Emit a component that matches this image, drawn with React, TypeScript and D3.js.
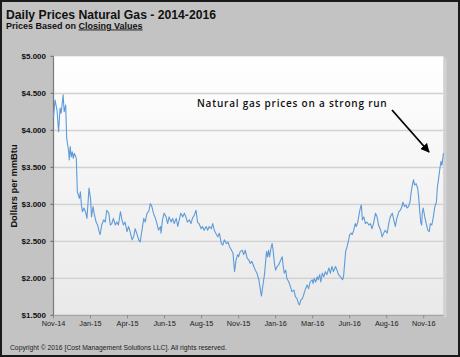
import React from 'react';
import * as d3 from 'd3';

const START_DATE = '2014-11-06';
const END_DATE = '2016-12-14';
const tickDates = ['2014-11-06', '2015-01-18', '2015-04-01', '2015-06-13', '2015-08-25', '2015-11-06', '2016-01-18', '2016-03-31', '2016-06-12', '2016-08-24', '2016-11-05'];
const yTicks = [1.5, 2, 2.5, 3, 3.5, 4, 4.5, 5];

// days after START_DATE
const dayOffsets = [
  0, 3, 7, 10, 13, 15, 19, 21, 24, 26, 30, 31, 33, 35, 37, 39, 41, 45, 47, 51, 53, 55, 57, 60, 63, 66, 68, 70, 73, 75, 78, 80, 84, 87, 90, 92, 95, 99,
  102, 105, 109, 112, 115, 118, 122, 125, 128, 132, 135, 138, 141, 145, 148, 151, 155, 158, 161, 165, 168, 171, 174, 178, 181, 184, 188, 191, 194, 197,
  201, 204, 207, 211, 212, 215, 218, 222, 225, 228, 232, 235, 238, 242, 245, 248, 251, 255, 258, 261, 264, 268, 271, 274, 278, 281, 284, 287, 291, 294, 297,
  301, 304, 307, 311, 314, 317, 320, 324, 327, 331, 334, 337, 341, 344, 347, 351, 354, 357, 360, 363, 365, 368, 372, 375, 378, 382, 385, 388, 391, 395, 398,
  401, 405, 408, 410, 413, 416, 418, 420, 422, 424, 426, 429, 431, 433, 436, 438, 441, 444, 447, 451, 453, 455, 458, 460, 464, 467, 470, 474, 477, 480, 483, 485, 488, 491, 493, 496,
  500, 503, 506, 510, 512, 514, 517, 520, 522, 525, 527, 530, 533, 536, 539, 543, 546, 549, 552, 556, 559, 562, 566, 570, 572, 576, 579, 582, 584, 587, 589, 592, 595, 597,
  600, 603, 605, 607, 609, 612, 615, 618, 622, 625, 628, 631, 635, 638, 641, 645, 648, 651, 654, 658, 661, 664, 668, 671, 674, 677, 681, 684, 687, 689, 692, 695, 697,
  700, 703, 705, 708, 710, 712, 715, 718, 720, 722, 724, 726, 727, 729, 732, 735, 738, 741, 743, 746, 749, 752, 755, 757, 759, 762, 764, 766, 768, 769,
];

const prices = [
  4.18, 4.41, 4.27, 3.98, 4.30, 4.23, 4.48, 4.25, 4.34, 3.89, 3.71, 3.60, 3.78, 3.64, 3.71, 3.62, 3.69, 3.62, 3.17, 3.08, 3.17, 2.99, 2.90, 2.95, 2.90, 2.81, 3.01, 3.22, 3.08, 2.83, 2.97, 2.88, 2.76, 2.72, 2.63, 2.59, 2.72, 2.79,
  2.76, 2.92, 2.88, 2.72, 2.74, 2.81, 2.72, 2.76, 2.72, 2.90, 2.79, 2.72, 2.76, 2.63, 2.70, 2.63, 2.52, 2.56, 2.67, 2.59, 2.52, 2.49, 2.63, 2.81, 2.76, 2.87, 2.91, 3.01, 2.97, 2.88,
  2.81, 2.74, 2.65, 2.70, 2.61, 2.79, 2.88, 2.83, 2.74, 2.83, 2.76, 2.81, 2.74, 2.81, 2.70, 2.79, 2.88, 2.83, 2.88, 2.83, 2.76, 2.79, 2.74, 2.81, 2.86, 2.92, 2.76, 2.74, 2.67, 2.70, 2.65,
  2.70, 2.65, 2.70, 2.67, 2.74, 2.65, 2.61, 2.56, 2.61, 2.47, 2.45, 2.52, 2.47, 2.49, 2.43, 2.38, 2.34, 2.09, 2.25, 2.32, 2.29, 2.36, 2.38, 2.32, 2.38, 2.27, 2.25, 2.20, 2.23, 2.16, 2.11,
  2.07, 1.98, 1.84, 1.76, 1.91, 2.05, 2.20, 2.36, 2.29, 2.38, 2.29, 2.41, 2.47, 2.38, 2.18, 2.11, 2.16, 2.18, 2.23, 2.29, 2.16, 2.07, 2.11, 2.00, 1.95, 1.89, 1.82, 1.84, 1.75, 1.73, 1.66, 1.64, 1.71, 1.73, 1.77, 1.84,
  1.91, 1.86, 1.95, 1.98, 1.93, 2.00, 1.95, 2.02, 1.98, 2.05, 1.95, 2.07, 2.02, 2.09, 2.05, 2.14, 2.07, 2.16, 2.09, 2.16, 2.11, 2.05, 2.02, 1.98, 2.03, 2.36, 2.43, 2.52, 2.59, 2.61, 2.59, 2.65, 2.74, 2.70,
  2.76, 2.88, 2.95, 2.99, 2.79, 2.83, 2.74, 2.76, 2.72, 2.74, 2.67, 2.74, 2.88, 2.83, 2.72, 2.65, 2.56, 2.61, 2.65, 2.61, 2.74, 2.83, 2.88, 2.79, 2.70, 2.81, 2.90, 2.92, 2.97, 3.03, 2.97, 2.99, 2.95,
  2.97, 3.03, 3.15, 3.28, 3.33, 3.26, 3.28, 3.22, 3.10, 2.92, 2.76, 2.72, 2.88, 2.95, 2.83, 2.74, 2.65, 2.63, 2.74, 2.72, 2.83, 2.97, 3.03, 3.24, 3.33, 3.49, 3.58, 3.53, 3.64, 3.69,
];

const TITLE = 'Daily Prices Natural Gas - 2014-2016';
const SUBTITLE_A = 'Prices Based on ';
const SUBTITLE_B = 'Closing Values';
const Y_TITLE = 'Dollars per mmBtu';
const ANNOTATION = 'Natural gas prices on a strong run';
const COPYRIGHT = 'Copyright \u00A9 2016 [Cost Management Solutions LLC].  All rights reserved.';

const W = 460;
const H = 357;
const PL = 53.5;
const PR = 443.5;
const PT = 56.3;
const PB = 315.3;

export default function App() {
  const parse = d3.utcParse('%Y-%m-%d');
  const fmt = d3.utcFormat('%b-%y');
  const start = parse(START_DATE) as Date;
  const end = parse(END_DATE) as Date;
  const x = d3.scaleUtc().domain([start, end]).range([PL, PR]);
  const y = d3.scaleLinear().domain([1.5, 5]).range([PB, PT]);
  const data = dayOffsets.map((d, i) => ({ date: d3.utcDay.offset(start, d), v: prices[i] }));
  const line = d3.line<{ date: Date; v: number }>().x((d) => x(d.date)).y((d) => y(d.v));
  const ticks = tickDates.map((t) => parse(t) as Date);
  const font = 'Arial, "Liberation Sans", sans-serif';

  return (
    <svg width={W} height={H} style={{ position: 'absolute', left: 0, top: 0, display: 'block' }} fontFamily={font}>
      <defs>
        <linearGradient id="pbg" x1="0" y1="0" x2="0" y2="1">
          <stop offset="0" stopColor="#ffffff" />
          <stop offset="1" stopColor="#e9e9e9" />
        </linearGradient>
        <marker id="arr" viewBox="0 0 10 10" refX="9" refY="5" markerWidth="5" markerHeight="5" orient="auto">
          <path d="M0,0 L10,5 L0,10 z" fill="#000" />
        </marker>
      </defs>
      <rect x={0} y={0} width={W} height={H} fill="#c3c3c3" />
      <rect x={1} y={1} width={W - 2} height={H - 2} fill="none" stroke="#1a1a1a" strokeWidth={2} />
      <rect x={PL} y={PT} width={PR - PL} height={PB - PT} fill="url(#pbg)" />
      <rect x={PR} y={PT + 2} width={3} height={PB - PT} fill="#d2d2d2" />

      <text x={6} y={19} fontSize={12.2} fontWeight="bold" fill="#111">{TITLE}</text>
      <text x={6} y={28.5} fontSize={9} fontWeight="bold" fill="#111">
        {SUBTITLE_A}
        <tspan textDecoration="underline">{SUBTITLE_B}</tspan>
      </text>

      {yTicks.map((t) => (
        <g key={t}>
          {t > 1.5 && t < 5 && (
            <>
              <line x1={PL} x2={PR} y1={y(t)} y2={y(t)} stroke="#c2c2c2" strokeWidth={1} />
              <line x1={PL} x2={PR} y1={y(t) + 1} y2={y(t) + 1} stroke="#ececec" strokeWidth={1} />
            </>
          )}
          <line x1={PL - 3} x2={PL} y1={y(t)} y2={y(t)} stroke="#666" />
          <text x={46} y={y(t) + 3} fontSize={8} fontWeight="bold" textAnchor="end" fill="#111">
            {'$' + t.toFixed(3)}
          </text>
        </g>
      ))}

      <line x1={PL} x2={PL} y1={PT} y2={PB} stroke="#7a7a7a" strokeWidth={1.2} />
      <line x1={PL} x2={PR} y1={PB} y2={PB} stroke="#9a9a9a" strokeWidth={1} />

      {ticks.map((t, i) => (
        <g key={i}>
          <line x1={x(t)} x2={x(t)} y1={PB} y2={PB + 3} stroke="#888" />
          <text x={x(t)} y={325.5} fontSize={7.3} textAnchor="middle" fill="#222">{fmt(t)}</text>
        </g>
      ))}

      <text transform="translate(17,186) rotate(-90)" fontSize={9.3} fontWeight="bold" textAnchor="middle" fill="#111">
        {Y_TITLE}
      </text>

      <path d={line(data) || ''} fill="none" stroke="#5e9bd8" strokeWidth={1.1} strokeLinejoin="round" />

      <text x={197} y={107.3} fontSize={10} fontWeight={600} fill="#111" fontFamily='"Open Sans", sans-serif' letterSpacing={0.78}>
        {ANNOTATION}
      </text>
      <line x1={392} y1={110} x2={429} y2={152} stroke="#000" strokeWidth={1.8} markerEnd="url(#arr)" />

      <text x={10} y={350} fontSize={6.75} fill="#222">{COPYRIGHT}</text>
    </svg>
  );
}
